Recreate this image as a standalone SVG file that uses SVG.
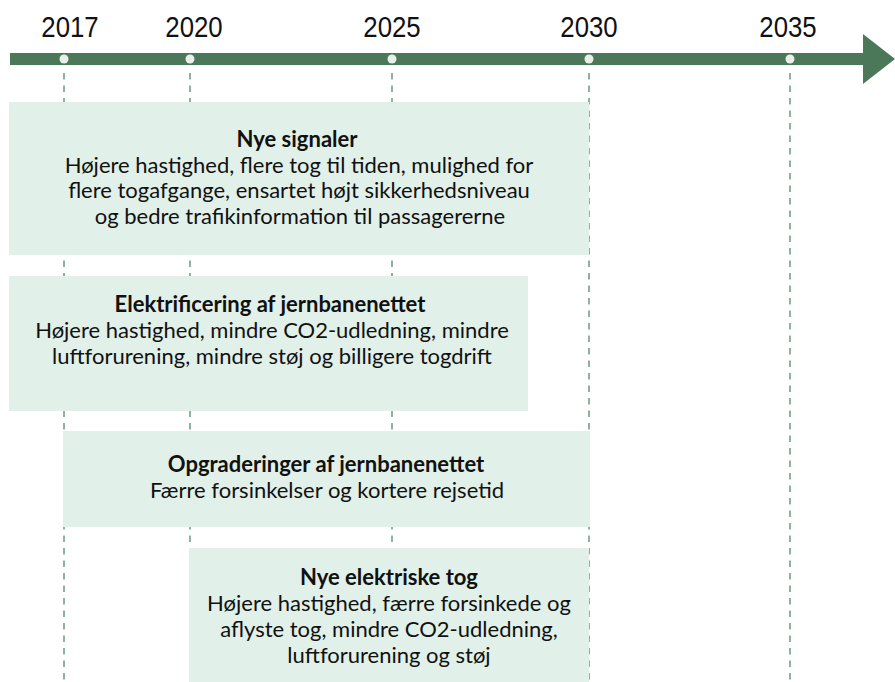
<svg xmlns="http://www.w3.org/2000/svg" width="895" height="682" viewBox="0 0 895 682">
  <style>
    .year { font-family: "Liberation Sans", Arial, sans-serif; font-size: 30px; fill: #111; text-anchor: middle; }
    .tick { stroke: #8db39e; stroke-width: 2; stroke-dasharray: 6.5 6; fill: none; }
    .box { fill: #e1f0e8; }
    .t { font-family: Lato, "Noto Sans", sans-serif; font-size: 22px; fill: #111; text-anchor: middle; }
    .b { font-weight: bold; }
    .dot { fill: #e8efe9; }
  </style>
  <rect width="895" height="682" fill="#ffffff"/>
  <g id="connectors">
    <line class="tick" x1="64" y1="73" x2="64" y2="682"/>
    <line class="tick" x1="190" y1="73" x2="190" y2="682"/>
    <line class="tick" x1="392" y1="73" x2="392" y2="682"/>
    <line class="tick" x1="589" y1="73" x2="589" y2="682"/>
    <line class="tick" x1="790" y1="73" x2="790" y2="682"/>
  </g>
  <g id="timeline">
    <rect x="10" y="53" width="854" height="12" fill="#4a7859"/>
    <polygon points="863,34 895,59 863,84" fill="#4a7859"/>
    <circle class="dot" cx="64" cy="59" r="4.5"/>
    <circle class="dot" cx="190" cy="59" r="4.5"/>
    <circle class="dot" cx="392" cy="59" r="4.5"/>
    <circle class="dot" cx="589" cy="59" r="4.5"/>
    <circle class="dot" cx="790" cy="59" r="4.5"/>
    <text class="year" transform="translate(70,37) scale(0.86,1)">2017</text>
    <text class="year" transform="translate(194,37) scale(0.86,1)">2020</text>
    <text class="year" transform="translate(392,37) scale(0.86,1)">2025</text>
    <text class="year" transform="translate(589,37) scale(0.86,1)">2030</text>
    <text class="year" transform="translate(788,37) scale(0.86,1)">2035</text>
  </g>
  <g id="nye-signaler">
    <rect class="box" x="9" y="102" width="580" height="153"/>
    <text class="t b" x="297" y="147">Nye signaler</text>
    <text class="t" x="299" y="173">Højere hastighed, flere tog til tiden, mulighed for</text>
    <text class="t" x="299" y="198">flere togafgange, ensartet højt sikkerhedsniveau</text>
    <text class="t" x="300" y="224">og bedre trafikinformation til passagererne</text>
  </g>
  <g id="elektrificering">
    <rect class="box" x="9" y="276" width="519" height="135"/>
    <text class="t b" x="270" y="312">Elektrificering af jernbanenettet</text>
    <text class="t" x="272" y="338">Højere hastighed, mindre CO2-udledning, mindre</text>
    <text class="t" x="272" y="364">luftforurening, mindre støj og billigere togdrift</text>
  </g>
  <g id="opgraderinger">
    <rect class="box" x="63" y="431" width="527" height="96"/>
    <text class="t b" x="326" y="472">Opgraderinger af jernbanenettet</text>
    <text class="t" x="327" y="498">Færre forsinkelser og kortere rejsetid</text>
  </g>
  <g id="nye-elektriske-tog">
    <rect class="box" x="189" y="548" width="400" height="134"/>
    <text class="t b" x="389" y="585">Nye elektriske tog</text>
    <text class="t" x="389" y="611">Højere hastighed, færre forsinkede og</text>
    <text class="t" x="389" y="637">aflyste tog, mindre CO2-udledning,</text>
    <text class="t" x="389" y="663">luftforurening og støj</text>
  </g>
</svg>
